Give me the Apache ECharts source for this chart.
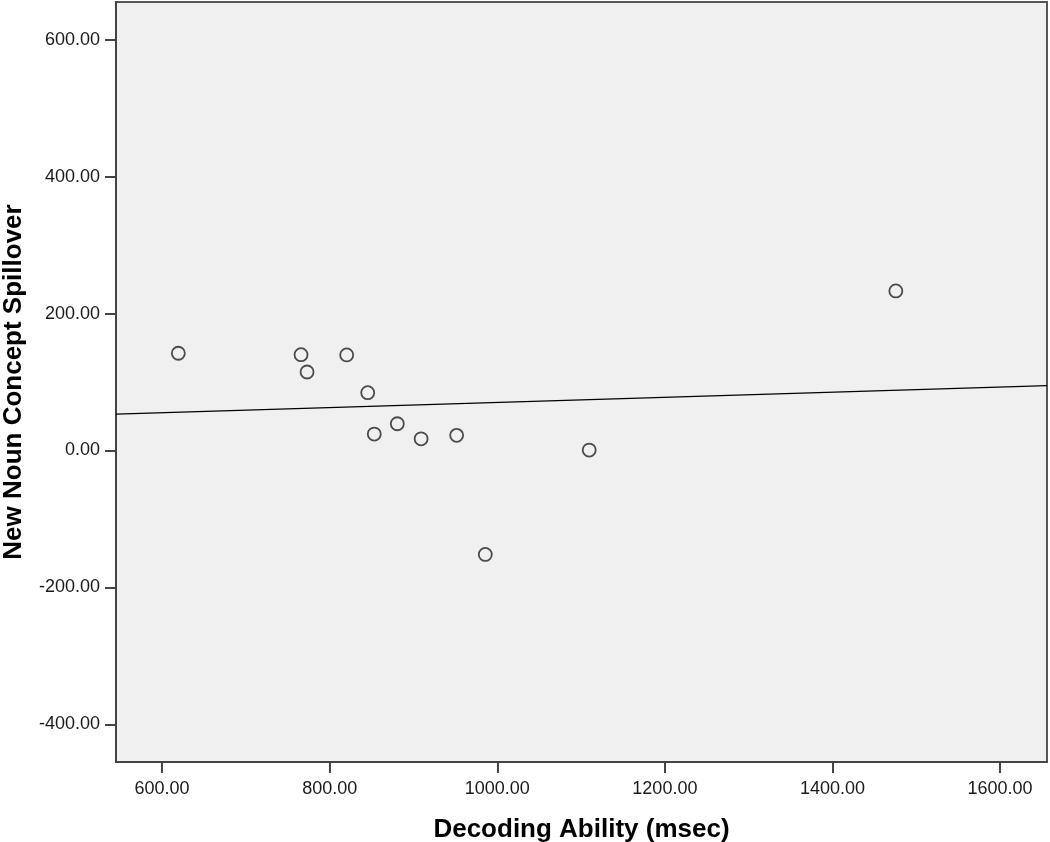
<!DOCTYPE html>
<html>
<head>
<meta charset="utf-8">
<script src="https://cdn.jsdelivr.net/npm/echarts@6/dist/echarts.min.js"></script>
<style>
html,body{margin:0;padding:0;background:#fff;}
#chart{width:1050px;height:842px;}
</style>
</head>
<body>
<div id="chart"></div>
<script>
// Data
const decodingAbility = [619.4, 765.8, 773.0, 820.3, 845.4, 853.2, 880.7, 909.1, 951.5, 985.7, 1109.7, 1475.6];
const spillover       = [142.0, 139.9, 114.6, 139.5, 84.4, 24.0, 39.0, 17.0, 22.1, -151.9, 0.6, 233.0];
const xTicks = [600, 800, 1000, 1200, 1400, 1600];
const yTicks = [-400, -200, 0, 200, 400, 600];
const xRange = [545, 1656];
const yRange = [-455, 655];
const xTitle = 'Decoding Ability (msec)';
const yTitle = 'New Noun Concept Spillover';

// Least-squares fit line (derived from the data above)
const n = decodingAbility.length;
const mx = decodingAbility.reduce((a, b) => a + b, 0) / n;
const my = spillover.reduce((a, b) => a + b, 0) / n;
let sxy = 0, sxx = 0;
for (let i = 0; i < n; i++) {
  sxy += (decodingAbility[i] - mx) * (spillover[i] - my);
  sxx += (decodingAbility[i] - mx) * (decodingAbility[i] - mx);
}
const slope = sxy / sxx;
const intercept = my - slope * mx;
const fitLine = xRange.map(x => [x, intercept + slope * x]);

const points = decodingAbility.map((x, i) => [x, spillover[i]]);

const axisColor = '#444';
const labelStyle = { color: '#1a1a1a', fontSize: 18, fontFamily: 'Liberation Sans, Arial, sans-serif' };
const nameStyle = { color: '#000', fontSize: 26, fontWeight: 'bold', fontFamily: 'Liberation Sans, Arial, sans-serif' };

const chart = echarts.init(document.getElementById('chart'), null, { renderer: 'canvas' });
chart.setOption({
  animation: false,
  backgroundColor: '#ffffff',
  grid: {
    left: 116, right: 3, top: 2, bottom: 80,
    containLabel: false, outerBoundsMode: 'none',
    show: true, backgroundColor: '#f0f0f0', borderColor: '#555', borderWidth: 2
  },
  xAxis: {
    type: 'value', min: xRange[0], max: xRange[1],
    name: xTitle, nameLocation: 'middle', nameGap: 55, nameTextStyle: nameStyle,
    axisLine: { show: true, onZero: false, lineStyle: { color: axisColor, width: 2 } },
    axisTick: { show: true, length: 11, lineStyle: { color: axisColor, width: 2 }, customValues: xTicks },
    axisLabel: { ...labelStyle, margin: 18, customValues: xTicks, formatter: v => v.toFixed(2) },
    splitLine: { show: false }
  },
  yAxis: {
    type: 'value', min: yRange[0], max: yRange[1],
    name: yTitle, nameLocation: 'middle', nameGap: 89, nameTextStyle: nameStyle,
    axisLine: { show: true, onZero: false, lineStyle: { color: axisColor, width: 2 } },
    axisTick: { show: true, length: 11, lineStyle: { color: axisColor, width: 2 }, customValues: yTicks },
    axisLabel: { ...labelStyle, margin: 16, customValues: yTicks, formatter: v => v.toFixed(2) },
    splitLine: { show: false }
  },
  series: [
    {
      type: 'line', data: fitLine, showSymbol: false, symbol: 'none', silent: true,
      lineStyle: { color: '#000', width: 1.3 }, z: 2
    },
    {
      type: 'scatter', data: points, symbol: 'circle', symbolSize: 13,
      itemStyle: { color: 'rgba(0,0,0,0)', borderColor: '#222', borderWidth: 1.8 }, z: 3
    }
  ]
});
</script>
</body>
</html>
